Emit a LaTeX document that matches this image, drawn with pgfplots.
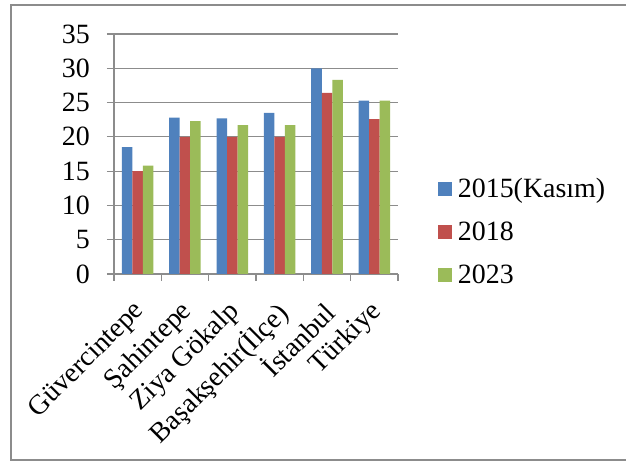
\documentclass[border=0pt]{standalone}
\usepackage{pgfplots}
\pgfplotsset{compat=1.18}
\usepackage{fontspec}
\setmainfont{Liberation Serif}
\definecolor{cblue}{HTML}{4F81BD}
\definecolor{cred}{HTML}{C0504D}
\definecolor{cgreen}{HTML}{9BBB59}
\definecolor{cgrid}{HTML}{8C8C8C}
\pgfplotstableread{
x y2015 y2018 y2023
0 18.5 15.0 15.8
1 22.8 20.0 22.3
2 22.7 20.0 21.7
3 23.5 20.0 21.7
4 30.0 26.4 28.3
5 25.3 22.6 25.3
}\datatable
\begin{document}
\begin{tikzpicture}[x=1bp,y=1bp]
\path[use as bounding box] (-114,-190) rectangle (512,274);
\draw[cgrid, line width=2bp] (600,-186) -- (-103,-186) -- (-103,269) -- (600,269);
\begin{axis}[
  at={(0,0)}, anchor=south west,
  scale only axis, width=284bp, height=240bp,
  font=\fontsize{28}{32}\selectfont,
  ybar=0pt, bar width=10.5bp,
  xmin=-0.5, xmax=5.5, ymin=0, ymax=35,
  ytick={0,5,...,35},
  xtick={0,...,5},
  xticklabels={Güvercintepe,Şahintepe,Ziya Gökalp,Başakşehir(İlçe),İstanbul,Türkiye},
  minor xtick={-0.5,0.5,...,5.5},
  axis x line*=bottom, axis y line*=left,
  axis line style={cgrid, line width=1.2bp, -},
  tick align=outside,
  major tick length=7bp, minor tick length=7bp,
  x tick style={draw=none},
  minor x tick style={draw=cgrid, line width=1.2bp},
  y tick style={cgrid, line width=1.2bp},
  ymajorgrids, grid style={cgrid, line width=1.2bp},
  xticklabel style={xshift=-6bp, yshift=-16bp, rotate=45, anchor=north east, inner sep=1bp},
  yticklabel style={inner sep=2bp, xshift=-15bp},
  /pgf/number format/assume math mode=true,
  legend style={draw=none, fill=none, at={(1.14,0.175)}, anchor=west,
    row sep=19bp, font=\fontsize{28}{32}\selectfont, inner sep=0pt,
    legend cell align=left},
  legend image code/.code={\fill[#1] (0bp,-7bp) rectangle (14bp,7bp); \path (18bp,0bp);},
]
\addplot[fill=cblue, draw=none] table[x=x, y=y2015] {\datatable};
\addplot[fill=cred, draw=none] table[x=x, y=y2018] {\datatable};
\addplot[fill=cgreen, draw=none] table[x=x, y=y2023] {\datatable};
\legend{2015(Kasım),2018,2023}
\end{axis}
\end{tikzpicture}
\end{document}
